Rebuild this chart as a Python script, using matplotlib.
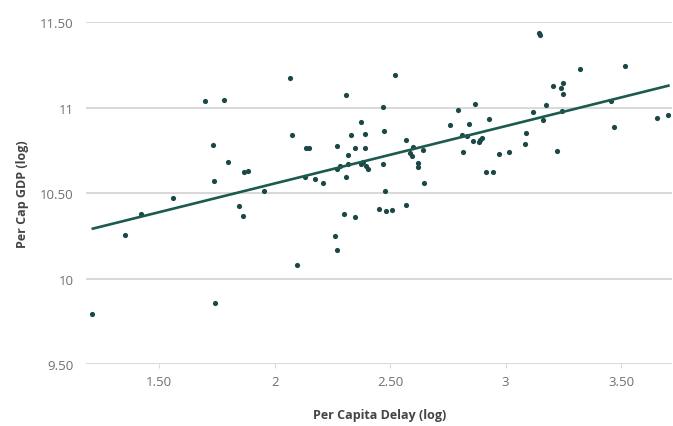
import matplotlib.pyplot as plt

# per capita delay (log) vs per cap GDP (log)
delay = [1.210, 1.350, 1.419, 1.560, 1.699, 1.779, 1.734, 1.798, 1.735, 1.742,
         1.847, 1.862, 1.867, 1.885, 1.954, 2.066, 2.075, 2.136, 2.147, 2.098,
         2.131, 2.176, 2.211, 2.261, 2.269, 2.302, 2.346, 2.308, 2.308, 2.270,
         2.270, 2.282, 2.317, 2.319, 2.330, 2.349, 2.373, 2.374, 2.384, 2.391,
         2.393, 2.397, 2.406, 2.453, 2.482, 2.507, 2.470, 2.473, 2.468, 2.476,
         2.519, 2.568, 2.568, 2.599, 2.586, 2.593, 2.641, 2.621, 2.622, 2.645,
         2.757, 2.793, 2.811, 2.833, 2.816, 2.841, 2.858, 2.868, 2.885, 2.891,
         2.896, 2.913, 2.946, 2.930, 2.970, 3.014, 3.084, 3.090, 3.118, 3.144,
         3.150, 3.160, 3.174, 3.204, 3.223, 3.241, 3.247, 3.248, 3.245, 3.321,
         3.458, 3.471, 3.519, 3.657, 3.705]
gdp = [9.796, 10.253, 10.380, 10.472, 11.039, 11.048, 10.780, 10.682, 10.569, 9.859,
       10.424, 10.369, 10.622, 10.633, 10.513, 11.173, 10.841, 10.768, 10.765, 10.081,
       10.595, 10.583, 10.560, 10.250, 10.168, 10.377, 10.364, 11.078, 10.595, 10.777,
       10.642, 10.659, 10.672, 10.724, 10.841, 10.765, 10.919, 10.673, 10.683, 10.767,
       10.846, 10.658, 10.641, 10.408, 10.398, 10.404, 11.004, 10.864, 10.671, 10.511,
       11.194, 10.811, 10.432, 10.769, 10.737, 10.719, 10.754, 10.678, 10.652, 10.558,
       10.897, 10.989, 10.842, 10.837, 10.742, 10.906, 10.805, 11.025, 10.798, 10.812,
       10.822, 10.626, 10.622, 10.936, 10.728, 10.741, 10.787, 10.855, 10.974, 11.436,
       11.428, 10.928, 11.018, 11.126, 10.747, 11.118, 11.143, 11.079, 10.984, 11.230,
       11.039, 10.890, 11.243, 10.941, 10.960]

# trend line end points
fit_x = [1.212, 3.705]
fit_y = [10.293, 11.130]

xticks = [1.5, 2, 2.5, 3, 3.5]
xlabels = ['1.50', '2', '2.50', '3', '3.50']
yticks = [9.5, 10, 10.5, 11, 11.5]
ylabels = ['9.50', '10', '10.50', '11', '11.50']

plt.rcParams['font.family'] = ['Open Sans', 'DejaVu Sans']

fig = plt.figure(figsize=(6.73, 4.27), dpi=100)
ax = fig.add_axes([0.128, 0.145, 0.871, 0.8])

ax.scatter(delay, gdp, s=14, color='#1b4747', zorder=3, linewidths=0)
ax.plot(fit_x, fit_y, color='#1c5a4e', linewidth=1.9, zorder=4)

ax.set_xlim(1.183, 3.722)
ax.set_ylim(9.5, 11.5)
ax.set_xticks(xticks)
ax.set_xticklabels(xlabels)
ax.set_yticks(yticks)
ax.set_yticklabels(ylabels)

for s in ax.spines.values():
    s.set_visible(False)
ax.grid(axis='y', color='#d8d8d8', linewidth=1.4)
ax.set_axisbelow(True)
ax.tick_params(axis='y', length=0, pad=9, labelsize=9.5, labelcolor='#707070')
ax.tick_params(axis='x', length=3, color='#d8d8d8', pad=5, labelsize=9.5, labelcolor='#707070')

ax.set_xlabel('Per Capita Delay (log)', fontsize=9, fontweight='bold', color='#444444', labelpad=14)
ax.set_ylabel('Per Cap GDP (log)', fontsize=9, fontweight='bold', color='#444444', labelpad=8)

plt.savefig('out.png', dpi=100)
